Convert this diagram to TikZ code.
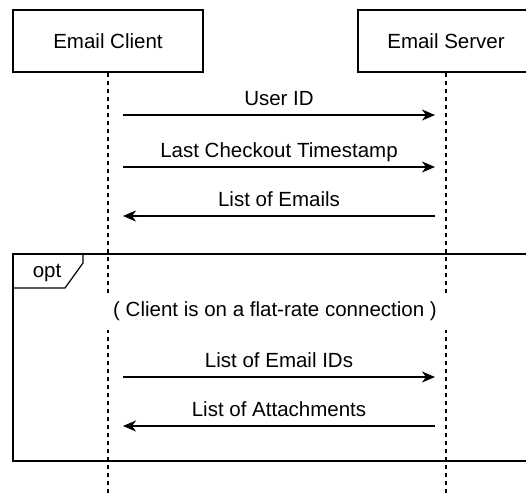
\documentclass[tikz,border=0pt]{standalone}
\usepackage{fontspec}
\setmainfont{Liberation Sans}
\usetikzlibrary{arrows.meta}

\tikzset{
  actor/.style={draw, line width=1.2pt, minimum height=62pt, inner sep=0pt},
  lifeline/.style={line width=1.2pt, dash pattern=on 4pt off 4pt},
  msg/.style={->, line width=1.4pt},
  msglabel/.style={midway, anchor=base, yshift=10pt, inner sep=0pt},
}

\begin{document}
\begin{tikzpicture}[x=1pt, y=-1pt, >={Stealth[length=13pt, width=11pt, inset=4pt]},
  font=\fontsize{20.5}{24}\selectfont]

  \clip (0,0) rectangle (526,496);

%%%%%%%%%%%%%%%%%%%%%%%%%%%%%%%%%%%%%%%%%%
  % Participants
  \node[actor, minimum width=190pt] (client) at (108,41) {Email Client};
  \node[actor, minimum width=176pt] (server) at (446,41) {Email Server};

  % Lifelines
  \coordinate (clientend) at (108,496);
  \coordinate (serverend) at (446,496);
  \draw[lifeline] (client.south) -- (clientend);
  \draw[lifeline] (server.south) -- (serverend);

%%%%%%%%%%%%%%%%%%%%%%%%%%%%%%%%%%%%%%%%%%
  % Messages
  \coordinate (c1) at (123,115); \coordinate (s1) at (435,115);
  \coordinate (c2) at (123,167); \coordinate (s2) at (435,167);
  \coordinate (c3) at (123,216); \coordinate (s3) at (435,216);

  \draw[msg] (c1) -- node[msglabel] (userid) {User ID} (s1);
  \draw[msg] (c2) -- node[msglabel] (timestamp) {Last Checkout Timestamp} (s2);
  \draw[msg] (s3) -- node[msglabel] (emails) {List of Emails} (c3);

%%%%%%%%%%%%%%%%%%%%%%%%%%%%%%%%%%%%%%%%%%
  % opt fragment
  \begin{scope}
    \draw[line width=1.2pt] (13,254) rectangle (540,461);
    \draw[line width=1.2pt] (13,288) -- (65,288) -- (83,263) -- (83,254);
    \node[inner sep=0pt] (opt) at (47,273) {opt};

    % Guard
    \node[fill=white, minimum width=360pt, minimum height=36pt, inner sep=0pt]
      (guard) at (275,311.5) {( Client is on a flat-rate connection )};

    \coordinate (c4) at (123,377); \coordinate (s4) at (435,377);
    \coordinate (c5) at (123,426); \coordinate (s5) at (435,426);

    \draw[msg] (c4) -- node[msglabel] (emailids) {List of Email IDs} (s4);
    \draw[msg] (s5) -- node[msglabel] (attachments) {List of Attachments} (c5);
  \end{scope}

\end{tikzpicture}
\end{document}
